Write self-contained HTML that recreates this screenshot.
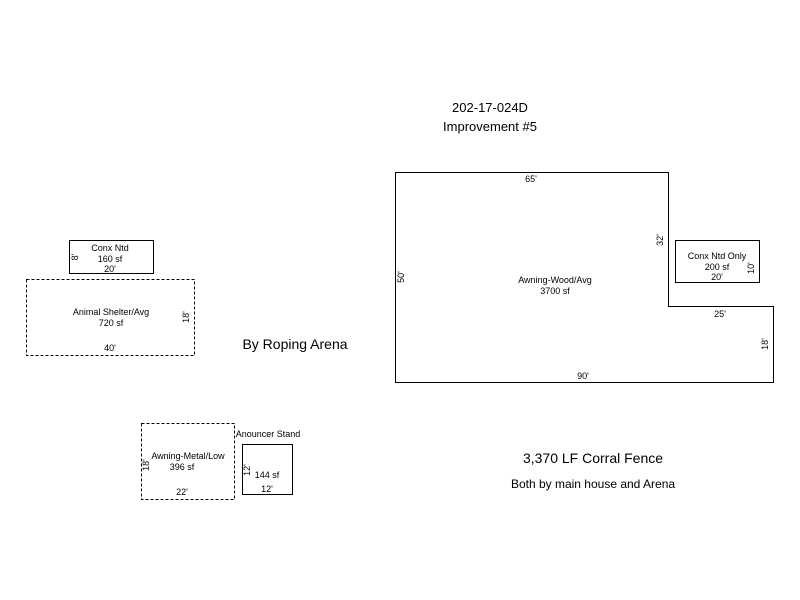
<!DOCTYPE html>
<html><head><style>body{margin:0;background:#fff}svg{display:block}text{font-family:"Liberation Sans",sans-serif;fill:#000}</style></head><body>
<svg width="800" height="600" xmlns="http://www.w3.org/2000/svg">
<g font-size="13" text-anchor="middle">
<text x="490" y="112">202-17-024D</text>
<text x="490" y="131">Improvement #5</text>
<text x="295" y="349" font-size="14">By Roping Arena</text>
<text x="593" y="463" font-size="14">3,370 LF Corral Fence</text>
<text x="593" y="488" font-size="12">Both by main house and Arena</text>
</g>
<g fill="none" stroke="#000" stroke-width="1">
<polygon points="395.5,172.5 668.5,172.5 668.5,306.5 773.5,306.5 773.5,382.5 395.5,382.5"/>
<rect x="675.5" y="240.5" width="84" height="42"/>
<rect x="69.5" y="240.5" width="84" height="33"/>
<rect x="242.5" y="444.5" width="50" height="50"/>
<rect x="26.5" y="279.5" width="168" height="76" stroke-dasharray="3,2"/>
<rect x="141.5" y="423.5" width="93" height="76" stroke-dasharray="3,2"/>
</g>
<g font-size="9" text-anchor="middle">
<text x="531" y="182">65'</text>
<text x="555" y="283">Awning-Wood/Avg</text>
<text x="555" y="294">3700 sf</text>
<text x="583" y="379">90'</text>
<text x="720" y="317">25'</text>
<text transform="translate(404,277) rotate(-90)">50'</text>
<text transform="translate(663,240) rotate(-90)">32'</text>
<text transform="translate(768,344) rotate(-90)">18'</text>
<text x="717" y="259">Conx Ntd Only</text>
<text x="717" y="270">200 sf</text>
<text x="717" y="280">20'</text>
<text transform="translate(754,268) rotate(-90)">10'</text>
<text x="110" y="251">Conx Ntd</text>
<text x="110" y="262">160 sf</text>
<text x="110" y="272">20'</text>
<text transform="translate(78,257) rotate(-90)">8'</text>
<text x="111" y="315">Animal Shelter/Avg</text>
<text x="111" y="326">720 sf</text>
<text x="110" y="351">40'</text>
<text transform="translate(189,317) rotate(-90)">18'</text>
<text x="188" y="459">Awning-Metal/Low</text>
<text x="182" y="470">396 sf</text>
<text x="182" y="495">22'</text>
<text transform="translate(149,465) rotate(-90)">18'</text>
<text x="268" y="437">Anouncer Stand</text>
<text x="267" y="478">144 sf</text>
<text x="267" y="492">12'</text>
<text transform="translate(250,470) rotate(-90)">12'</text>
</g>
</svg>
</body></html>
